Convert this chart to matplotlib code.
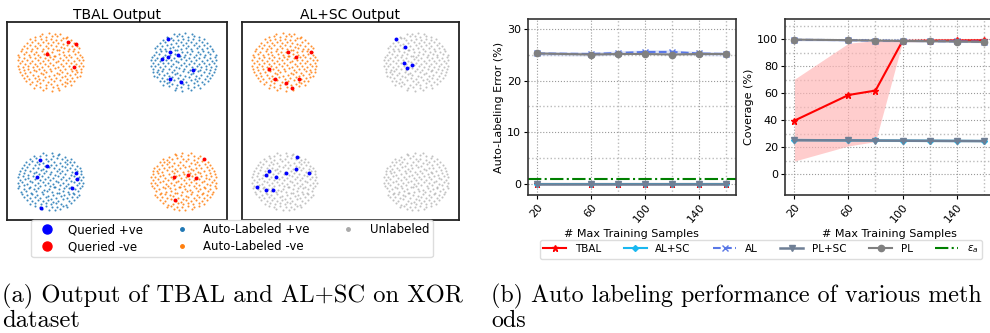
import matplotlib
matplotlib.use("Agg")
import matplotlib.pyplot as plt
from matplotlib.lines import Line2D
from matplotlib.ticker import MultipleLocator, FixedLocator
import numpy as np

# ---- (a) XOR toy data -------------------------------------------------
# blob centres in the order: top-left, top-right, bottom-left, bottom-right
centres = [(-1, 1), (1, 1), (-1, -1), (1, -1)]
blob_r = 0.5
# which group every blob ends up in
tbal_groups = ["neg", "pos", "pos", "neg"]
alsc_groups = ["neg", "unl", "unl", "unl"]
# mirror used for each blob so they don't look identical
blob_flip = [(1, 1), (-1, 1), (1, -1), (-1, -1)]

# hand placed offsets of one blob (unit disk)
blob_pts = [
    (-0.22, -0.94), (0.05, -0.96), (0.27, -0.93),
    (-0.48, -0.86), (-0.30, -0.83), (-0.12, -0.88), (0.09, -0.84), (0.24, -0.87), (0.45, -0.82),
    (-0.62, -0.74), (-0.44, -0.77), (-0.31, -0.72), (-0.13, -0.76), (0.02, -0.73), (0.20, -0.78),
    (0.36, -0.74), (0.51, -0.71), (0.63, -0.76),
    (-0.73, -0.63), (-0.55, -0.67), (-0.40, -0.64), (-0.21, -0.62), (-0.06, -0.68), (0.11, -0.65),
    (0.28, -0.61), (0.43, -0.66), (0.60, -0.63), (0.72, -0.64),
    (-0.80, -0.53), (-0.64, -0.57), (-0.47, -0.54), (-0.33, -0.58), (-0.16, -0.52), (0.01, -0.56),
    (0.17, -0.55), (0.35, -0.51), (0.50, -0.57), (0.66, -0.54), (0.79, -0.52),
    (-0.86, -0.44), (-0.70, -0.47), (-0.52, -0.43), (-0.38, -0.46), (-0.23, -0.42), (-0.05, -0.48),
    (0.12, -0.45), (0.26, -0.41), (0.44, -0.47), (0.58, -0.44), (0.74, -0.42), (0.88, -0.46),
    (-0.91, -0.33), (-0.75, -0.37), (-0.60, -0.34), (-0.44, -0.31), (-0.29, -0.38), (-0.12, -0.35),
    (0.03, -0.32), (0.19, -0.36), (0.34, -0.34), (0.51, -0.37), (0.66, -0.31), (0.80, -0.35), (0.92, -0.33),
    (-0.95, -0.24), (-0.79, -0.27), (-0.66, -0.22), (-0.49, -0.26), (-0.35, -0.23), (-0.18, -0.28),
    (-0.02, -0.25), (0.14, -0.21), (0.30, -0.27), (0.45, -0.24), (0.61, -0.22), (0.77, -0.26), (0.93, -0.23),
    (-0.97, -0.14), (-0.83, -0.17), (-0.68, -0.12), (-0.53, -0.16), (-0.39, -0.13), (-0.24, -0.18),
    (-0.08, -0.15), (0.07, -0.11), (0.23, -0.17), (0.38, -0.14), (0.55, -0.12), (0.70, -0.16),
    (0.85, -0.13), (0.97, -0.15),
    (-0.92, -0.04), (-0.76, -0.07), (-0.61, -0.02), (-0.46, -0.06), (-0.31, -0.03), (-0.15, -0.08),
    (0.00, -0.05), (0.16, -0.01), (0.31, -0.07), (0.47, -0.04), (0.62, -0.02), (0.78, -0.06), (0.93, -0.03),
    (-0.98, 0.06), (-0.84, 0.03), (-0.69, 0.08), (-0.54, 0.04), (-0.38, 0.07), (-0.23, 0.02),
    (-0.07, 0.05), (0.08, 0.09), (0.24, 0.03), (0.39, 0.06), (0.54, 0.08), (0.70, 0.04),
    (0.86, 0.07), (0.98, 0.05),
    (-0.93, 0.16), (-0.78, 0.13), (-0.62, 0.18), (-0.47, 0.14), (-0.32, 0.17), (-0.16, 0.12),
    (-0.01, 0.15), (0.15, 0.19), (0.30, 0.13), (0.46, 0.16), (0.63, 0.18), (0.79, 0.14), (0.94, 0.17),
    (-0.96, 0.24), (-0.80, 0.27), (-0.64, 0.22), (-0.50, 0.26), (-0.36, 0.23), (-0.20, 0.28),
    (-0.05, 0.25), (0.11, 0.21), (0.27, 0.27), (0.42, 0.24), (0.57, 0.22), (0.73, 0.26), (0.88, 0.23),
    (-0.89, 0.36), (-0.73, 0.33), (-0.57, 0.38), (-0.42, 0.34), (-0.26, 0.37), (-0.10, 0.32),
    (0.06, 0.35), (0.21, 0.39), (0.37, 0.33), (0.53, 0.36), (0.68, 0.38), (0.83, 0.34),
    (-0.85, 0.44), (-0.69, 0.47), (-0.54, 0.42), (-0.39, 0.46), (-0.22, 0.43), (-0.07, 0.48),
    (0.09, 0.45), (0.25, 0.41), (0.40, 0.47), (0.56, 0.44), (0.71, 0.42), (0.86, 0.46),
    (-0.78, 0.54), (-0.62, 0.57), (-0.46, 0.52), (-0.30, 0.56), (-0.14, 0.53), (0.02, 0.58),
    (0.18, 0.55), (0.33, 0.51), (0.49, 0.57), (0.64, 0.54), (0.80, 0.52),
    (-0.70, 0.64), (-0.54, 0.67), (-0.38, 0.62), (-0.23, 0.66), (-0.08, 0.63), (0.08, 0.68),
    (0.24, 0.65), (0.39, 0.61), (0.55, 0.67), (0.71, 0.63),
    (-0.60, 0.76), (-0.45, 0.73), (-0.29, 0.78), (-0.14, 0.74), (0.01, 0.77), (0.17, 0.72),
    (0.32, 0.75), (0.47, 0.79), (0.62, 0.73),
    (-0.46, 0.84), (-0.30, 0.87), (-0.13, 0.83), (0.04, 0.86), (0.20, 0.88), (0.37, 0.82), (0.50, 0.85),
    (-0.24, 0.94), (-0.05, 0.97), (0.14, 0.95), (0.29, 0.93),
]
blob_x = np.array([p[0] for p in blob_pts])
blob_y = np.array([p[1] for p in blob_pts])

# queried points
tbal_qpos_x = [0.76, 0.80, 0.91, 0.68, 0.76, 1.14, 0.80, 0.96, -1.15, -1.05, -1.20, -0.62, -0.60, -0.67, -1.14]
tbal_qpos_y = [1.38, 1.17, 1.12, 1.05, 1.09, 0.87, 0.72, 0.67, -0.65, -0.75, -0.93, -0.87, -0.97, -1.11, -1.45]
tbal_qneg_x = [-0.73, -0.61, -1.05, -0.65, 1.31, 0.85, 1.07, 1.18, 0.87]
tbal_qneg_y = [1.34, 1.30, 1.13, 0.92, -0.62, -0.93, -0.90, -0.94, -1.31]
alsc_qpos_x = [0.70, 0.83, 0.81, 0.94, 0.86, -0.81, -1.24, -1.28, -0.82, -0.63, -0.97, -1.13, -1.41, -1.28, -1.17]
alsc_qpos_y = [1.39, 1.25, 0.98, 0.95, 0.90, -0.59, -0.83, -0.89, -0.80, -0.86, -0.87, -0.93, -1.10, -1.14, -1.15]
alsc_qneg_x = [-0.94, -0.83, -0.60, -1.24, -1.14, -0.97, -0.78, -0.89]
alsc_qneg_y = [1.16, 1.08, 1.16, 0.88, 0.71, 0.65, 0.71, 0.57]

# ---- (b) auto labeling curves ----------------------------------------
n_train = [20, 60, 80, 100, 120, 140, 160]
err_tbal = [0, 0, 0, 0, 0, 0, 0]
err_alsc = [0, 0, 0, 0, 0, 0, 0]
err_al = [25.3, 25.2, 25.4, 25.6, 25.6, 25.3, 25.2]
err_plsc = [0, 0, 0, 0, 0, 0, 0]
err_pl = [25.3, 25.1, 25.2, 25.2, 25.1, 25.2, 25.2]
err_sd = [0.4, 0.4, 0.4, 0.4, 0.4, 0.4, 0.4]
eps_a = 1.0

cov_tbal = [39.6, 58.6, 61.9, 98.7, 99.0, 99.1, 99.2]
cov_tbal_lo = [9.6, 20.8, 24.0, 98.0, 98.3, 98.5, 98.6]
cov_tbal_hi = [70.3, 97.0, 99.0, 99.4, 99.6, 99.6, 99.7]
cov_alsc = [25.3, 25.0, 24.9, 24.8, 24.7, 24.6, 24.5]
cov_al = [99.6, 99.3, 99.0, 98.8, 98.6, 98.4, 98.2]
cov_plsc = [25.0, 24.9, 24.8, 24.7, 24.6, 24.5, 24.4]
cov_pl = [99.7, 99.3, 99.0, 98.7, 98.5, 98.3, 98.0]
cov_sd = [0.8, 0.8, 0.8, 0.8, 0.8, 0.8, 0.8]

C_QPOS, C_QNEG = "#0000ff", "#ff0000"
C_POS, C_NEG, C_UNL = "#1f77b4", "#ff7f0e", "#a9a9a9"
group_col = {"pos": C_POS, "neg": C_NEG, "unl": C_UNL}

fig = plt.figure(figsize=(9.9, 3.33), dpi=100)


def xor_panel(rect, title, groups, qpx, qpy, qnx, qny):
    ax = fig.add_axes(rect)
    for (cx, cy), g, (fx, fy) in zip(centres, groups, blob_flip):
        ax.scatter(cx + fx * blob_r * blob_x, cy + fy * blob_r * blob_y, s=2.2,
                   color=group_col[g], alpha=0.85 if g != "unl" else 0.7, lw=0)
    ax.scatter(qpx, qpy, s=8, color=C_QPOS, lw=0, zorder=3)
    ax.scatter(qnx, qny, s=8, color=C_QNEG, lw=0, zorder=3)
    ax.set_xlim(-1.65, 1.65)
    ax.set_ylim(-1.65, 1.67)
    ax.set_xticks([])
    ax.set_yticks([])
    for s in ax.spines.values():
        s.set_linewidth(1.3)
        s.set_color("#222222")
    ax.set_title(title, fontsize=10, pad=2)
    return ax


xor_panel([7 / 990, 1 - 220 / 333, 220 / 990, 198 / 333], "TBAL Output",
          tbal_groups, tbal_qpos_x, tbal_qpos_y, tbal_qneg_x, tbal_qneg_y)
xor_panel([241.5 / 990, 1 - 220 / 333, 217.5 / 990, 198 / 333], "AL+SC Output",
          alsc_groups, alsc_qpos_x, alsc_qpos_y, alsc_qneg_x, alsc_qneg_y)

left_handles = [
    Line2D([], [], ls="none", marker="o", ms=6.5, color=C_QPOS, label="Queried +ve"),
    Line2D([], [], ls="none", marker="o", ms=6.5, color=C_QNEG, label="Queried -ve"),
    Line2D([], [], ls="none", marker="o", ms=2.5, color=C_POS, label="Auto-Labeled +ve"),
    Line2D([], [], ls="none", marker="o", ms=2.5, color=C_NEG, label="Auto-Labeled -ve"),
    Line2D([], [], ls="none", marker="o", ms=2.5, color=C_UNL, label="Unlabeled"),
]
fig.legend(handles=left_handles, ncol=3, loc="center", bbox_to_anchor=(0.2343, 0.284),
           fontsize=8.5, frameon=True, handletextpad=0.8, columnspacing=2.3,
           borderpad=0.3, labelspacing=0.35, edgecolor="#dddddd", framealpha=1)

# ---- right side: error and coverage ----------------------------------
styles = {
    "TBAL": dict(color="red", marker="*", ls="-", ms=5),
    "AL+SC": dict(color="#1ab8f0", marker="D", ls="-", ms=3),
    "AL": dict(color="#5a78e6", marker="x", ls="--", ms=5),
    "PL+SC": dict(color="#6f7f95", marker="v", ls="-", ms=5),
    "PL": dict(color="#808080", marker="o", ls="-", ms=4.5),
}


def style_axes(ax, ylab, ylim, major, minor):
    ax.set_xlim(13, 167)
    ax.set_ylim(*ylim)
    ax.xaxis.set_major_locator(FixedLocator([20, 60, 100, 140]))
    ax.xaxis.set_minor_locator(FixedLocator([80, 120, 160]))
    ax.yaxis.set_major_locator(MultipleLocator(major))
    ax.yaxis.set_minor_locator(FixedLocator(minor))
    ax.tick_params(which="minor", length=0)
    ax.tick_params(labelsize=8, length=3, pad=2)
    plt.setp(ax.get_xticklabels(), rotation=50, ha="right", rotation_mode="anchor")
    ax.grid(which="major", ls=":", color="#999999", lw=0.8)
    ax.grid(which="minor", ls=":", color="#bbbbbb", lw=1.0)
    ax.set_axisbelow(True)
    ax.set_xlabel("# Max Training Samples", fontsize=8, labelpad=3)
    ax.set_ylabel(ylab, fontsize=8, labelpad=2)
    for s in ax.spines.values():
        s.set_linewidth(1.2)
        s.set_color("#333333")


ax_e = fig.add_axes([528 / 990, 1 - 195 / 333, 207.5 / 990, 176 / 333])
ax_e.fill_between(n_train, np.array(err_al) - err_sd, np.array(err_al) + err_sd,
                  color="#9fb0e8", alpha=0.35, lw=0)
ax_e.plot(n_train, err_tbal, lw=1.5, label="TBAL", **styles["TBAL"])
ax_e.plot(n_train, err_alsc, lw=1.5, label="AL+SC", **styles["AL+SC"])
ax_e.plot(n_train, err_al, lw=1.5, label="AL", **styles["AL"])
ax_e.plot(n_train, err_plsc, lw=1.8, label="PL+SC", **styles["PL+SC"])
ax_e.plot(n_train, err_pl, lw=1.5, label="PL", **styles["PL"])
ax_e.axhline(eps_a, color="green", ls="-.", lw=1.5, label=r"$\epsilon_a$")
style_axes(ax_e, "Auto-Labeling Error (%)", (-2.2, 32), 10, [5, 15, 25])

ax_c = fig.add_axes([785 / 990, 1 - 195 / 333, 208 / 990, 176 / 333])
ax_c.fill_between(n_train, cov_tbal_lo, cov_tbal_hi, color="#ffb3b3", alpha=0.65, lw=0)
ax_c.fill_between(n_train, np.array(cov_al) - cov_sd, np.array(cov_al) + cov_sd,
                  color="#9fb0e8", alpha=0.35, lw=0)
ax_c.fill_between(n_train, np.array(cov_alsc) - cov_sd, np.array(cov_alsc) + cov_sd,
                  color="#8fd8f5", alpha=0.45, lw=0)
ax_c.plot(n_train, cov_tbal, lw=1.5, **styles["TBAL"])
ax_c.plot(n_train, cov_alsc, lw=1.5, **styles["AL+SC"])
ax_c.plot(n_train, cov_al, lw=1.5, **styles["AL"])
ax_c.plot(n_train, cov_plsc, lw=1.8, **styles["PL+SC"])
ax_c.plot(n_train, cov_pl, lw=1.5, **styles["PL"])
style_axes(ax_c, "Coverage (%)", (-15.6, 115), 20, [10, 30, 50, 70, 90, 110])

handles, labels = ax_e.get_legend_handles_labels()
fig.legend(handles, labels, ncol=6, loc="center", bbox_to_anchor=(0.7685, 0.2508),
           fontsize=7.5, frameon=True, handlelength=2.2, columnspacing=2.2,
           handletextpad=0.8, borderpad=0.35, edgecolor="#dddddd", framealpha=1)

# ---- captions --------------------------------------------------------
cap = dict(family="cmr10", fontsize=17.7, va="baseline", ha="left")
fig.text(0.002, 1 - 302 / 333, "(a) Output of TBAL and AL+SC on XOR", **cap)
fig.text(0.002, 1 - 327 / 333, "dataset", **cap)
cap["fontsize"] = 17.3
fig.text(491 / 990, 1 - 302 / 333, "(b) Auto labeling performance of various meth", **cap)
fig.text(491 / 990, 1 - 327 / 333, "ods", **cap)

fig.savefig("out.png", dpi=100)
